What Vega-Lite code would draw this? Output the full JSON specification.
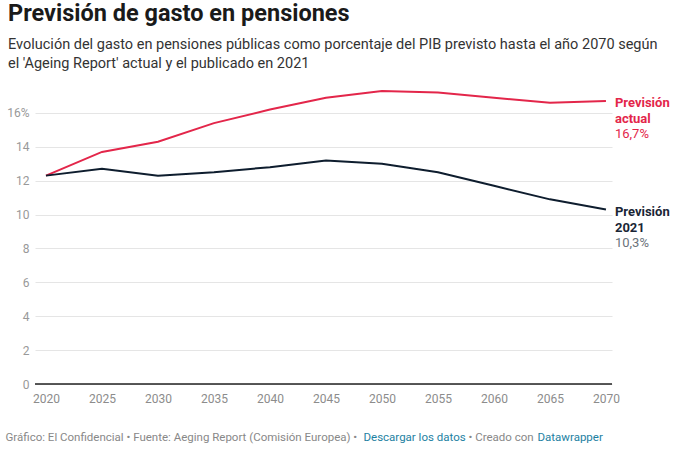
{
  "$schema": "https://vega.github.io/schema/vega-lite/v6.json",
  "width": 577,
  "height": 299,
  "autosize": "none",
  "padding": {"left": 35, "top": 85, "right": 68, "bottom": 65},
  "background": "white",
  "config": {
    "font": "Roboto",
    "view": {"stroke": null},
    "axis": {"labelFont": "Roboto", "titleFont": "Roboto"}
  },
  "title": {
    "text": "Previsión de gasto en pensiones",
    "subtitle": ["Evolución del gasto en pensiones públicas como porcentaje del PIB previsto hasta el año 2070 según", "el 'Ageing Report' actual y el publicado en 2021"],
    "anchor": "start",
    "frame": "group",
    "dx": -27,
    "dy": -3,
    "fontSize": 23.5,
    "fontWeight": "bold",
    "color": "#1a1a1a",
    "subtitleFontSize": 14.5,
    "subtitleColor": "#333333",
    "subtitleLineHeight": 19,
    "subtitlePadding": 12,
    "offset": 12
  },
  "datasets": {
    "main": [
      {"year": 2020, "value": 12.3, "series": "actual"},
      {"year": 2025, "value": 13.7, "series": "actual"},
      {"year": 2030, "value": 14.3, "series": "actual"},
      {"year": 2035, "value": 15.4, "series": "actual"},
      {"year": 2040, "value": 16.2, "series": "actual"},
      {"year": 2045, "value": 16.9, "series": "actual"},
      {"year": 2050, "value": 17.3, "series": "actual"},
      {"year": 2055, "value": 17.2, "series": "actual"},
      {"year": 2060, "value": 16.9, "series": "actual"},
      {"year": 2065, "value": 16.6, "series": "actual"},
      {"year": 2070, "value": 16.7, "series": "actual"},
      {"year": 2020, "value": 12.3, "series": "2021"},
      {"year": 2025, "value": 12.7, "series": "2021"},
      {"year": 2030, "value": 12.3, "series": "2021"},
      {"year": 2035, "value": 12.5, "series": "2021"},
      {"year": 2040, "value": 12.8, "series": "2021"},
      {"year": 2045, "value": 13.2, "series": "2021"},
      {"year": 2050, "value": 13.0, "series": "2021"},
      {"year": 2055, "value": 12.5, "series": "2021"},
      {"year": 2060, "value": 11.7, "series": "2021"},
      {"year": 2065, "value": 10.9, "series": "2021"},
      {"year": 2070, "value": 10.3, "series": "2021"}
    ],
    "labels": [
      {"year": 2070, "value": 16.7, "series": "actual", "name": "Previsión|actual", "val": "16,7%"},
      {"year": 2070, "value": 10.3, "series": "2021", "name": "Previsión|2021", "val": "10,3%"}
    ]
  },
  "resolve": {"axis": {"x": "independent"}},
  "encoding": {
    "y": {
      "field": "value", "type": "quantitative",
      "scale": {"domain": [0, 17.65], "nice": false},
      "axis": {
        "values": [0, 2, 4, 6, 8, 10, 12, 14, 16],
        "labelExpr": "datum.value == 16 ? '16%' : datum.label",
        "labelOverlap": false,
        "labelFontSize": 12, "labelColor": "#999999", "labelPadding": 6,
        "domain": false, "ticks": false, "gridColor": "#e5e5e5", "gridWidth": 1,
        "title": null
      }
    }
  },
  "layer": [
    {
      "data": {"name": "main"},
      "mark": {"type": "line", "strokeWidth": 2},
      "encoding": {
        "x": {
          "field": "year", "type": "quantitative",
          "scale": {"domain": [2019.02, 2070.54], "nice": false, "zero": false},
          "axis": {
            "orient": "bottom",
            "values": [2020, 2025, 2030, 2035, 2040, 2045, 2050, 2055, 2060, 2065, 2070],
            "format": "d", "labelFontSize": 12, "labelColor": "#8c8c8c",
            "labelPadding": 9, "domain": false, "ticks": false, "grid": false,
            "title": "Gráfico: El Confidencial • Fuente: Aeging Report (Comisión Europea) • ",
            "titleX": -30, "titleY": 56, "titleAlign": "left", "titleAnchor": null,
            "titleBaseline": "alphabetic", "titleFontSize": 11.5, "titleFontWeight": "normal",
            "titleColor": "#888888"
          }
        },
        "color": {
          "field": "series", "type": "nominal",
          "scale": {"domain": ["actual", "2021"], "range": ["#e3264a", "#0e1d2e"]},
          "legend": null
        }
      }
    },
    {
      "data": {"values": [{"value": 0}]},
      "mark": {"type": "rule", "color": "#222222", "strokeWidth": 1.5},
      "encoding": {}
    },
    {
      "data": {"name": "labels"},
      "mark": {"type": "text", "align": "left", "baseline": "middle", "dx": 9, "dy": 2, "fontSize": 13, "fontWeight": "bold", "lineBreak": "|", "lineHeight": 16},
      "encoding": {
        "x": {"field": "year", "type": "quantitative", "axis": null},
        "text": {"field": "name"},
        "color": {"condition": {"test": "datum.series == 'actual'", "value": "#e3264a"}, "value": "#1a2636"}
      }
    },
    {
      "data": {"name": "labels"},
      "mark": {"type": "text", "align": "left", "baseline": "middle", "dx": 9, "dy": 33, "fontSize": 13},
      "encoding": {
        "x": {"field": "year", "type": "quantitative", "axis": null},
        "text": {"field": "val"},
        "color": {"condition": {"test": "datum.series == 'actual'", "value": "#e3264a"}, "value": "#6b737b"}
      }
    },
    {
      "data": {"name": "labels"},
      "mark": {"type": "point", "opacity": 0},
      "encoding": {
        "x": {"field": "year", "type": "quantitative", "axis": {
          "orient": "bottom", "labels": false, "domain": false, "ticks": false, "grid": false,
          "title": "Descargar los datos", "titleX": 328, "titleY": 56, "titleAlign": "left", "titleAnchor": null,
          "titleBaseline": "alphabetic", "titleFontSize": 11.5, "titleFontWeight": "normal", "titleColor": "#1d81a2"}}
      }
    },
    {
      "data": {"name": "labels"},
      "mark": {"type": "point", "opacity": 0},
      "encoding": {
        "x": {"field": "year", "type": "quantitative", "axis": {
          "orient": "bottom", "labels": false, "domain": false, "ticks": false, "grid": false,
          "title": "• Creado con", "titleX": 433, "titleY": 56, "titleAlign": "left", "titleAnchor": null,
          "titleBaseline": "alphabetic", "titleFontSize": 11.5, "titleFontWeight": "normal", "titleColor": "#888888"}}
      }
    },
    {
      "data": {"name": "labels"},
      "mark": {"type": "point", "opacity": 0},
      "encoding": {
        "x": {"field": "year", "type": "quantitative", "axis": {
          "orient": "bottom", "labels": false, "domain": false, "ticks": false, "grid": false,
          "title": "Datawrapper", "titleX": 502, "titleY": 56, "titleAlign": "left", "titleAnchor": null,
          "titleBaseline": "alphabetic", "titleFontSize": 11.5, "titleFontWeight": "normal", "titleColor": "#1d81a2"}}
      }
    }
  ]
}
